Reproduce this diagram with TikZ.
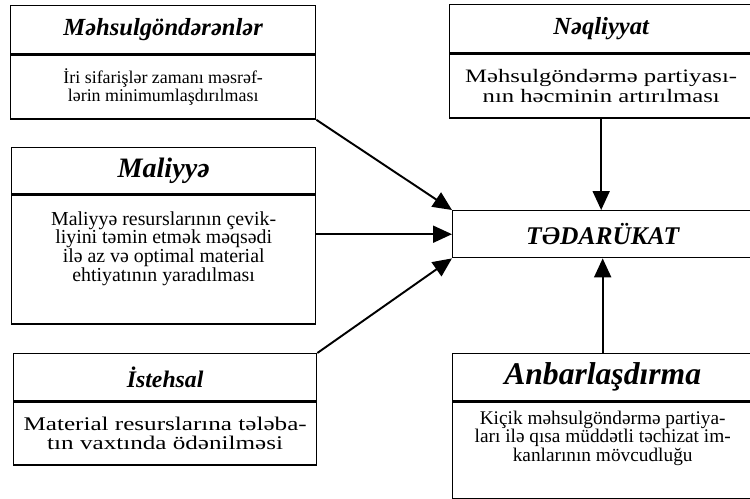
\documentclass[tikz,border=0pt]{standalone}
\usepackage{fontspec}
\setmainfont{Liberation Serif}
\newfontfamily\widefont[FakeStretch=1.3]{Liberation Serif}
\usetikzlibrary{
  positioning,
  arrows.meta}

\begin{document}
\begin{tikzpicture}[x=0.02cm,y=-0.02cm]
\tikzset{
  box/.style={draw,line width=0.8pt,inner sep=2pt,align=center},
  hd/.style={box,font=\bfseries\itshape\fontsize{#1}{#1}\selectfont},
  bd/.style 2 args={box,font=\fontsize{#1}{#2}\selectfont},
  wbd/.style 2 args={box,font=\widefont\fontsize{#1}{#2}\selectfont},
  arr/.style={line width=1.1pt,-{Triangle[length=0.38cm,width=0.34cm]}}
}
\useasboundingbox (0,0) rectangle (750,498);

\node[hd=14,anchor=north west,minimum width=6.1cm,minimum height=0.96cm] (meh) at (10,5) {Məhsulgöndərənlər};
\node[bd={10.2}{10.5},below=0pt of meh,minimum width=6.1cm,minimum height=1.28cm] (meh-b) {İri sifarişlər zamanı məsrəf-\\lərin minimumlaşdırılması};

\node[hd=16,anchor=north west,minimum width=6.08cm,minimum height=0.92cm] (mal) at (11,147) {Maliyyə};
\node[bd={11.3}{10.8},below=0pt of mal,minimum width=6.08cm,minimum height=2.58cm] (mal-b) {Maliyyə resurslarının çevik-\\liyini təmin etmək məqsədi\\ilə az və optimal material\\ehtiyatının yaradılması\\[4pt]};

\node[hd=13.5,anchor=north west,minimum width=6.06cm,minimum height=0.94cm] (ist) at (13,353) {İstehsal};
\node[wbd={11}{10.6},below=0pt of ist,minimum width=6.06cm,minimum height=1.26cm] (ist-b) {Material resurslarına tələba-\\tın vaxtında ödənilməsi};

\node[hd=14,anchor=north west,minimum width=6.06cm,minimum height=0.96cm] (neq) at (449,4) {Nəqliyyat};
\node[wbd={10.8}{11},below=0pt of neq,minimum width=6.06cm,minimum height=1.28cm] (neq-b) {Məhsulgöndərmə partiyası-\\nın həcminin artırılması};

\node[hd=14.5,anchor=north west,minimum width=6cm,minimum height=0.94cm] (tad) at (452,210) {TƏDARÜKAT};

\node[hd=18,anchor=north west,minimum width=6cm,minimum height=0.94cm] (anb) at (452,353) {Anbarlaşdırma};
\node[bd={11}{10.6},below=0pt of anb,minimum width=6cm,minimum height=1.94cm] (anb-b) {Kiçik məhsulgöndərmə partiya-\\ları ilə qısa müddətli təchizat im-\\kanlarının mövcudluğu\\[6pt]};

\draw[arr] (meh-b.south east) -- (tad.north west);
\draw[arr] (mal-b.east |- tad.west) -- (tad.west);
\draw[arr] (ist.north east) -- (tad.south west);
\draw[arr] (neq-b.south) -- (neq-b.south |- tad.north);
\draw[arr] (anb.north) -- (anb.north |- tad.south);
\end{tikzpicture}
\end{document}
